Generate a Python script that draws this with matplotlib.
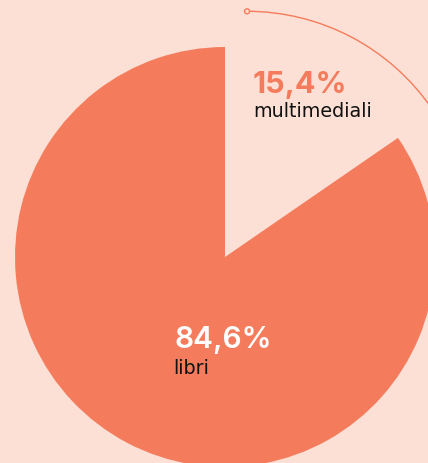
import matplotlib
matplotlib.use("Agg")
import matplotlib.pyplot as plt
from matplotlib.patches import Arc, Circle

categories = ["multimediali", "libri"]
values = [15.4, 84.6]
value_labels = ["15,4%", "84,6%"]

BG = "#FDE0D5"
CORAL = "#F47C5C"

fig = plt.figure(figsize=(4.28, 4.64), dpi=100, facecolor=BG)
ax = fig.add_axes([0, 0, 1, 1])
ax.set_facecolor(BG)

ax.pie(values, colors=[BG, CORAL], startangle=90, counterclock=False,
       radius=1.0, center=(0, 0), wedgeprops=dict(linewidth=0))

# decorative arc over the small slice
small_angle = 360 * values[0] / sum(values)
arc_c = (0.105, 0.103)
arc_r = 1.067
ax.add_patch(Arc(arc_c, 2 * arc_r, 2 * arc_r, theta1=90 - small_angle, theta2=90,
                 color=CORAL, lw=1.0))
ax.add_patch(Circle((arc_c[0], arc_c[1] + arc_r), 0.012, facecolor=BG,
                    edgecolor=CORAL, lw=1.0, zorder=5))

ax.set_xlim(-225 / 210, 203 / 210)
ax.set_ylim(-206 / 210, 258 / 210)
ax.set_aspect("equal")
ax.axis("off")

num_font = "Inter"
lab_font = "DejaVu Sans"

ax.text(0.130, 0.787, value_labels[0], color=CORAL, fontsize=22, fontweight="bold",
        family=num_font, ha="left", va="baseline")
ax.text(0.135, 0.672, categories[0], color="#111111", fontsize=13.8,
        family=lab_font, ha="left", va="baseline")
ax.text(-0.240, -0.430, value_labels[1], color="white", fontsize=21.5, fontweight="semibold",
        family=num_font, ha="left", va="baseline")
ax.text(-0.248, -0.550, categories[1], color="#111111", fontsize=13.8,
        family=lab_font, ha="left", va="baseline")

fig.savefig("out.png", dpi=100, facecolor=BG)
